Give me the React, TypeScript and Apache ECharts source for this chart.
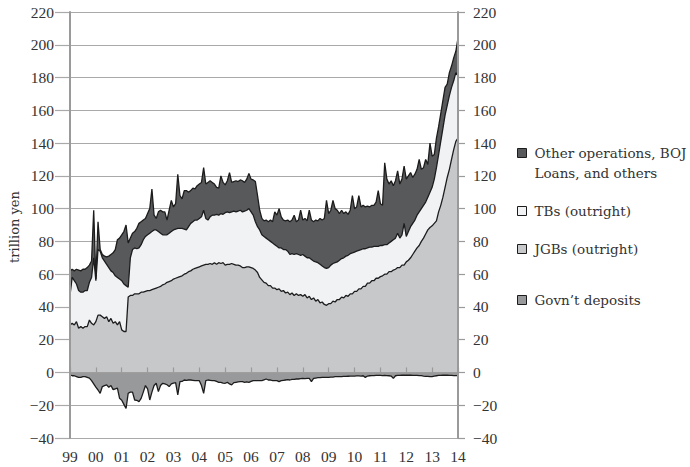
import React, { useEffect, useRef } from "react";
import * as echarts from "echarts";

// Monthly categories Jan 1999 .. Jan 2014
const months: string[] = [];
for (let y = 1999; y <= 2014; y++) {
  for (let m = 1; m <= 12; m++) {
    if (y === 2014 && m > 1) break;
    months.push(`${y}-${m < 10 ? "0" + m : m}`);
  }
}

// Levels (trillion yen), cumulative tops of the stacked areas
const jgbLevel: number[] = [
  29, 30, 29, 31, 27, 28, 27, 28, 28, 32, 30, 29,
  31, 35, 35, 34, 33, 34, 31, 33, 30, 31, 29, 31,
  26, 25, 25, 46, 47, 47, 48, 48, 48, 49, 49, 49.5,
  50, 50, 50.5, 51, 51.5, 52, 52.5, 53.5, 54, 55, 55.5, 56,
  57, 57.5, 58, 58.5, 59, 60, 60.5, 61.5, 62, 63, 63.5, 64,
  64.5, 65, 65.5, 66, 66, 66.5, 66, 67, 66, 67, 66.5, 67,
  65.5, 66, 66, 66.5, 66, 65.5, 65.5, 65, 64, 64, 64.5, 64.5,
  64, 63.5, 62.5, 61, 58, 56.5, 55, 54.5, 53, 53, 51.5, 51.5,
  50.5, 51, 49.5, 50, 48.5, 49, 47.5, 48.5, 47, 48, 47, 47.5,
  46.5, 47.5, 45.5, 46.5, 44.5, 45.5, 43.5, 44.5, 42.5, 43, 41.5, 41,
  42, 42, 43.5, 43, 44.5, 44.5, 46, 45.5, 47, 46.5, 48, 48,
  49.5, 49.5, 51, 51, 52.5, 52.5, 54.5, 54.5, 56, 56, 57.5, 57.5,
  58.5, 59, 60, 60, 61.5, 61.5, 62.5, 63, 64, 64, 65.5, 65.5,
  67.5, 68.5, 70, 72, 74, 76, 77.5, 80, 82, 84.5, 87, 88.5,
  89.5, 91, 92.5, 98, 102, 107, 113, 119, 124, 130, 136, 141,
  143,
];

const tbLevel: number[] = [
  47, 58, 56, 54, 50, 49, 49, 50, 50, 55, 58, 70,
  56, 75, 74, 70, 68, 66, 64, 62, 61, 59, 58, 57,
  56, 54, 53, 52, 70, 75, 76, 75.5, 76, 78, 81, 83,
  84, 85, 86, 87, 87, 86, 85, 84, 84, 84, 85, 86,
  87, 87.5, 88, 88, 88, 87.5, 87, 89, 91, 92, 93, 93,
  94, 95, 99, 94, 93, 95, 96, 96, 96.5, 96, 97, 96.5,
  97.5, 98, 97.5, 98, 98.5, 98, 98.5, 99, 98, 98.5, 99, 100,
  98, 96, 92, 89, 87, 84, 83, 82, 81, 80, 79, 78,
  77, 76, 76, 75, 75, 74, 72, 72.5, 72, 72.5, 72, 71.5,
  72, 71, 70, 70, 69, 68, 67.5, 67, 66, 65, 64, 63.5,
  64, 65.5, 66.5, 67, 67.5, 68.5, 69.5, 70, 71, 71.5, 72.5, 73,
  73.5, 74, 74.5, 75, 75.5, 75.5, 76, 76.5, 76.5, 77, 77, 77,
  77.5, 77.5, 78, 78, 79, 80, 81, 82, 85, 82, 84, 91,
  83, 86, 89, 91, 93, 96, 98, 100, 102, 104, 107, 110,
  113, 118, 125, 133, 141, 149, 157, 163, 169, 174, 178, 183,
  181,
];

const totalLevel: number[] = [
  62, 63, 62, 63, 62.5, 62, 63, 63, 64, 65.5, 68, 99,
  57, 92, 75, 72, 71, 70.5, 71, 72, 73, 75, 81, 82,
  84, 86, 90, 79, 82, 85, 86, 88, 91, 92, 93, 94,
  97, 100, 112, 96, 94, 98, 99, 98, 98, 93, 99, 105,
  101, 103, 121, 108, 106, 111, 111, 110, 111, 112.5, 112, 114,
  115, 116, 125, 115, 116, 117, 116, 115, 113, 112.5, 120, 116,
  114.5, 117, 122, 116, 116.5, 117, 116.5, 117.5, 117, 116, 118, 121.5,
  118, 117.5, 116.5, 108, 99, 94, 92.5, 93, 92, 93, 92, 98,
  96, 100, 95, 93, 92.5, 93, 92, 93, 96, 92, 93, 99,
  93, 94, 92.5, 99, 93, 92, 93, 92.5, 94, 93, 94, 105,
  97, 99, 105, 100, 99, 97, 99, 97, 98, 96.5, 99, 108,
  100, 101, 108, 101, 102, 101, 101.5, 101, 102, 102, 104, 111,
  103, 102, 128, 118, 115, 117, 114, 117, 123, 115, 118, 126,
  118, 120, 122, 119, 121, 124, 130, 124, 125, 130, 127, 140,
  132, 133, 143, 150, 158, 166, 174, 176, 183, 187, 192, 196,
  204,
];

const govtDeposits: number[] = [
  -1.5, -2, -2, -2.5, -3, -3, -2.5, -2.5, -3, -3.5, -5, -7,
  -9, -10.7, -12.7, -8.6, -8, -7.6, -9, -8, -10.5, -10, -9.5, -15.8,
  -17, -19.5, -22, -12.7, -12, -12, -16.8, -17, -17.8, -15.8, -12, -8,
  -10, -16.8, -12, -8, -6.6, -11.7, -8, -6.6, -7, -7.5, -8.6, -7,
  -6.5, -6.2, -13.7, -5.6, -5.5, -4.6, -4.8, -4.6, -4.6, -4.8, -5, -5,
  -5, -8, -12.7, -5, -4.6, -4.8, -5, -5, -5.5, -6, -6, -6.5,
  -6.6, -6, -7, -7.6, -6.2, -6, -5.8, -5.6, -5.6, -6, -5.8, -6,
  -5.5, -5, -5, -5, -5, -5, -4.5, -4, -4.6, -4.6, -5, -5,
  -5, -5.6, -5, -4.8, -4.6, -4.4, -4.6, -4.2, -4.2, -4, -4, -3.8,
  -3.6, -3.8, -3.6, -3.6, -5.6, -3.6, -3.4, -3.2, -3.2, -3, -3, -3,
  -3, -2.8, -2.8, -2.6, -2.6, -2.5, -2.5, -2.4, -2.4, -2.3, -2.2, -2.2,
  -2.2, -2.1, -2.1, -2.2, -2, -3, -2.2, -2, -1.9, -1.9, -1.8, -1.8,
  -1.8, -1.9, -1.8, -1.9, -2, -2.2, -3.6, -2, -1.8, -1.8, -1.7, -1.7,
  -1.7, -1.6, -1.7, -1.8, -1.8, -1.8, -1.9, -1.9, -2.2, -2.4, -2.4, -2.5,
  -2.5, -2.2, -2, -1.8, -1.8, -1.7, -1.7, -1.7, -1.8, -1.8, -1.9, -1.9,
  -1.9,
];

const seriesNames = {
  other: "Other operations, BOJ Loans, and others",
  tb: "TBs (outright)",
  jgb: "JGBs (outright)",
  govt: "Govn\u2019t deposits",
};

const yMin = -40;
const yMax = 220;
const yStep = 20;

const NUM_FONT = '"Liberation Serif", "Times New Roman", serif';
const WORD_FONT = '"DejaVu Serif", "Liberation Serif", serif';
const TEXT = "#333333";
const AXIS = "#9a9a9a";
const GRID = "#a9a9a9";
const EDGE = "#1c1c1c";

const COLORS = {
  other: "#58595b",
  tb: "#f1f2f4",
  jgb: "#c7c8ca",
  govt: "#98999b",
};

const r1 = (v: number) => Math.round(v * 10) / 10;

export default function App() {
  const ref = useRef<HTMLDivElement>(null);

  useEffect(() => {
    if (!ref.current) return;
    const chart = echarts.init(ref.current, undefined, { renderer: "svg" });

    const jgb = jgbLevel.map(r1);
    const tb = tbLevel.map((v, i) => r1(v - jgbLevel[i]));
    const other = totalLevel.map((v, i) => r1(v - tbLevel[i]));

    const minus = (v: number) => String(v).replace("-", "\u2212");

    const areaSeries = (name: string, data: number[], color: string, stack?: string) => ({
      name,
      type: "line",
      data,
      stack,
      symbol: "none",
      showSymbol: false,
      color,
      itemStyle: { color },
      lineStyle: { color: EDGE, width: 1.3 },
      areaStyle: { color, opacity: 1 },
      z: 2,
    });

    const legendItem = (name: string, top: number, formatter?: any) => ({
      data: [{ name }],
      left: 517,
      top,
      padding: 0,
      orient: "vertical",
      icon: "rect",
      itemWidth: 9,
      itemHeight: 9,
      selectedMode: false,
      itemStyle: { borderColor: EDGE, borderWidth: 1 },
      textStyle: {
        fontFamily: WORD_FONT,
        fontSize: 13.5,
        color: TEXT,
        lineHeight: 20,
        padding: [0, 0, 0, 3],
      },
      ...(formatter ? { formatter } : {}),
    });

    const numLabel = {
      fontFamily: NUM_FONT,
      fontSize: 15.5,
      color: TEXT,
    };

    chart.setOption({
      animation: false,
      grid: { left: 70, right: 232, top: 12, bottom: 29 },
      graphic: [
        {
          type: "text",
          x: 14,
          y: 227,
          rotation: Math.PI / 2,
          style: {
            text: "trillion yen",
            fontFamily: WORD_FONT,
            fontSize: 13,
            fill: TEXT,
            align: "center",
            verticalAlign: "middle",
          },
        },
      ],
      legend: [
        legendItem(seriesNames.other, 123, () => "\nOther operations, BOJ\nLoans, and others"),
        legendItem(seriesNames.tb, 201),
        legendItem(seriesNames.jgb, 239),
        legendItem(seriesNames.govt, 290),
      ],
      xAxis: [
        {
          type: "category",
          data: months,
          boundaryGap: false,
          position: "bottom",
          axisLine: { show: false, onZero: false },
          axisTick: { show: false },
          axisLabel: {
            interval: 11,
            margin: 10,
            ...numLabel,
            formatter: (v: string) => v.slice(2, 4),
          },
          splitLine: { show: false },
        },
        {
          type: "category",
          data: months,
          boundaryGap: false,
          position: "bottom",
          z: 10,
          axisLine: { show: true, onZero: true, lineStyle: { color: AXIS, width: 1.5 } },
          axisTick: { show: true, inside: true, length: 5, interval: 11, lineStyle: { color: AXIS, width: 1.2 } },
          axisLabel: { show: false },
          splitLine: { show: false },
        },
      ],
      yAxis: [
        {
          type: "value",
          min: yMin,
          max: yMax,
          interval: yStep,
          position: "left",
          axisLine: { show: false },
          axisTick: { show: true, length: 15, lineStyle: { color: GRID, width: 1.2 } },
          axisLabel: { margin: 16, ...numLabel, formatter: minus },
          splitLine: { show: true, lineStyle: { color: GRID, width: 1.2 } },
        },
        {
          type: "value",
          min: yMin,
          max: yMax,
          interval: yStep,
          position: "right",
          z: 10,
          axisLine: { show: true, lineStyle: { color: AXIS, width: 2 } },
          axisTick: { show: true, length: 7, lineStyle: { color: AXIS, width: 1.2 } },
          axisLabel: { margin: 15, ...numLabel, formatter: minus },
          splitLine: { show: false },
        },
        {
          type: "value",
          min: yMin,
          max: yMax,
          interval: yStep,
          position: "left",
          z: 10,
          axisLine: { show: true, lineStyle: { color: AXIS, width: 2 } },
          axisTick: { show: false },
          axisLabel: { show: false },
          splitLine: { show: false },
        },
      ],
      series: [
        areaSeries(seriesNames.jgb, jgb, COLORS.jgb, "pos"),
        areaSeries(seriesNames.tb, tb, COLORS.tb, "pos"),
        areaSeries(seriesNames.other, other, COLORS.other, "pos"),
        areaSeries(seriesNames.govt, govtDeposits, COLORS.govt),
      ],
    });

    return () => chart.dispose();
  }, []);

  return (
    <div
      ref={ref}
      style={{ position: "fixed", left: 0, top: 0, width: 690, height: 467, background: "#ffffff" }}
    />
  );
}
